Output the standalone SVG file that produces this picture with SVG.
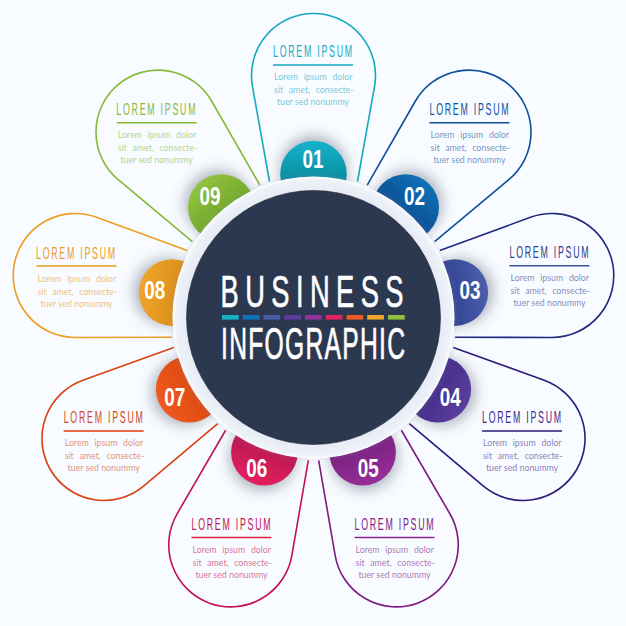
<svg xmlns="http://www.w3.org/2000/svg" width="626" height="626" viewBox="0 0 626 626">
<style>
.petal{fill:none;stroke-width:1.6}
.title{font-family:"Liberation Sans",sans-serif;font-size:16px;letter-spacing:3.2px}
.body{font-family:Lato,"Open Sans",sans-serif;font-size:8.8px;fill-opacity:.62}
.w{word-spacing:3.4px}
.num{font-family:"Liberation Sans",sans-serif;font-weight:700;font-size:25px;fill:#fff;text-anchor:middle}
.big{font-family:"Liberation Sans",sans-serif;fill:#fff;stroke:#fff;stroke-width:.7px;font-size:44px}
.sh{fill:#5a6478;fill-opacity:.5;filter:url(#blur)}
.rule{stroke-width:1.6}
</style>
<defs>
<filter id="blur" x="-50%" y="-50%" width="200%" height="200%"><feGaussianBlur stdDeviation="7"/></filter>
<filter id="ringsh" x="-10%" y="-10%" width="120%" height="120%"><feDropShadow dx="0" dy="0" stdDeviation="3" flood-color="#8792a8" flood-opacity=".3"/></filter>
<radialGradient id="ringg" cx=".5" cy=".5" r=".5"><stop offset=".9" stop-color="#e7ecf5"/><stop offset=".975" stop-color="#edf1f8"/><stop offset="1" stop-color="#ffffff"/></radialGradient>
<linearGradient id="g1" x1=".5" y1="0" x2=".5" y2="1" gradientTransform="rotate(0 .5 .5)"><stop offset="0" stop-color="#14b3cc"/><stop offset=".6" stop-color="#0a8c9e"/></linearGradient>
<linearGradient id="g2" x1=".5" y1="0" x2=".5" y2="1" gradientTransform="rotate(40 .5 .5)"><stop offset="0" stop-color="#0f72b8"/><stop offset=".7" stop-color="#0b4a8e"/></linearGradient>
<linearGradient id="g3" x1=".5" y1="0" x2=".5" y2="1" gradientTransform="rotate(80 .5 .5)"><stop offset="0" stop-color="#4a5fab"/><stop offset=".7" stop-color="#2f3f8f"/></linearGradient>
<linearGradient id="g4" x1=".5" y1="0" x2=".5" y2="1" gradientTransform="rotate(120 .5 .5)"><stop offset="0" stop-color="#5b3fa0"/><stop offset=".7" stop-color="#432a85"/></linearGradient>
<linearGradient id="g5" x1=".5" y1="0" x2=".5" y2="1" gradientTransform="rotate(160 .5 .5)"><stop offset="0" stop-color="#962f98"/><stop offset=".7" stop-color="#761f7e"/></linearGradient>
<linearGradient id="g6" x1=".5" y1="0" x2=".5" y2="1" gradientTransform="rotate(200 .5 .5)"><stop offset="0" stop-color="#e4205f"/><stop offset=".7" stop-color="#b5164e"/></linearGradient>
<linearGradient id="g7" x1=".5" y1="0" x2=".5" y2="1" gradientTransform="rotate(240 .5 .5)"><stop offset="0" stop-color="#f0591f"/><stop offset=".7" stop-color="#d9480f"/></linearGradient>
<linearGradient id="g8" x1=".5" y1="0" x2=".5" y2="1" gradientTransform="rotate(280 .5 .5)"><stop offset="0" stop-color="#f0a52a"/><stop offset=".7" stop-color="#d98b18"/></linearGradient>
<linearGradient id="g9" x1=".5" y1="0" x2=".5" y2="1" gradientTransform="rotate(320 .5 .5)"><stop offset="0" stop-color="#92c23e"/><stop offset=".7" stop-color="#6fa52b"/></linearGradient>
</defs>
<rect width="626" height="626" fill="#f8fbff"/>

<g id="node-01">
<path class="petal" stroke="#16a9c0" transform="translate(313.5 317.5) rotate(0)" d="M-44-136L-61.04-231.09A62 62 0 1 1 61.04-231.09L44-136"/>
<circle class="sh" cx="313.5" cy="169" r="33"/><circle cx="313.5" cy="174" r="33.3" fill="url(#g1)"/>
<text class="num" x="313" y="168.3" textLength="21" lengthAdjust="spacingAndGlyphs">01</text>
<text class="title" fill="#16a9c0" transform="translate(273 57.3) scale(.55 1)">LOREM IPSUM</text>
<line class="rule" stroke="#16a9c0" x1="273" x2="353" y1="65" y2="65"/>
<text class="body w" fill="#16a9c0" x="274" y="80.3">Lorem ipsum dolor</text>
<text class="body w" fill="#16a9c0" x="274" y="93">sit amet, consecte-</text>
<text class="body" fill="#16a9c0" x="313" y="105.3" text-anchor="middle">tuer sed nonummy</text>
</g>

<g id="node-02">
<path class="petal" stroke="#0d4f9c" transform="translate(313.5 317.5) rotate(40)" d="M-44-136L-61.04-231.09A62 62 0 1 1 61.04-231.09L44-136"/>
<circle class="sh" cx="408.9" cy="203.8" r="33"/><circle cx="405.7" cy="207.6" r="33.3" fill="url(#g2)"/>
<text class="num" x="414.5" y="205" textLength="21" lengthAdjust="spacingAndGlyphs">02</text>
<text class="title" fill="#0d4f9c" transform="translate(429.5 115) scale(.55 1)">LOREM IPSUM</text>
<line class="rule" stroke="#0d4f9c" x1="429.5" x2="509.5" y1="122.7" y2="122.7"/>
<text class="body w" fill="#0d4f9c" x="430.5" y="138">Lorem ipsum dolor</text>
<text class="body w" fill="#0d4f9c" x="430.5" y="150.7">sit amet, consecte-</text>
<text class="body" fill="#0d4f9c" x="469.5" y="163" text-anchor="middle">tuer sed nonummy</text>
</g>

<g id="node-03">
<path class="petal" stroke="#1f2a80" transform="translate(313.5 317.5) rotate(80)" d="M-44-136L-61.04-231.09A62 62 0 1 1 61.04-231.09L44-136"/>
<circle class="sh" cx="459.7" cy="291.7" r="33"/><circle cx="454.8" cy="292.6" r="33.3" fill="url(#g3)"/>
<text class="num" x="470" y="299.3" textLength="21" lengthAdjust="spacingAndGlyphs">03</text>
<text class="title" fill="#2e3c8c" transform="translate(509.5 258.3) scale(.55 1)">LOREM IPSUM</text>
<line class="rule" stroke="#3d4f9f" x1="509.5" x2="589.5" y1="265.8" y2="265.8"/>
<text class="body w" fill="#2e3c8c" x="510.5" y="281.3">Lorem ipsum dolor</text>
<text class="body w" fill="#2e3c8c" x="510.5" y="294">sit amet, consecte-</text>
<text class="body" fill="#2e3c8c" x="549.5" y="306.3" text-anchor="middle">tuer sed nonummy</text>
</g>

<g id="node-04">
<path class="petal" stroke="#2e1a7a" transform="translate(313.5 317.5) rotate(120)" d="M-44-136L-61.04-231.09A62 62 0 1 1 61.04-231.09L44-136"/>
<circle class="sh" cx="442.1" cy="391.75" r="33"/><circle cx="437.8" cy="389.25" r="33.3" fill="url(#g4)"/>
<text class="num" x="450.3" y="406" textLength="21" lengthAdjust="spacingAndGlyphs">04</text>
<text class="title" fill="#3f2a85" transform="translate(482 423.3) scale(.55 1)">LOREM IPSUM</text>
<line class="rule" stroke="#2e1a7a" x1="482" x2="562" y1="431" y2="431"/>
<text class="body w" fill="#3f2a85" x="483" y="446.3">Lorem ipsum dolor</text>
<text class="body w" fill="#3f2a85" x="483" y="459">sit amet, consecte-</text>
<text class="body" fill="#3f2a85" x="522" y="471.3" text-anchor="middle">tuer sed nonummy</text>
</g>

<g id="node-05">
<path class="petal" stroke="#7c1a80" transform="translate(313.5 317.5) rotate(160)" d="M-44-136L-61.04-231.09A62 62 0 1 1 61.04-231.09L44-136"/>
<circle class="sh" cx="364.3" cy="457" r="33"/><circle cx="362.6" cy="452.3" r="33.3" fill="url(#g5)"/>
<text class="num" x="368.3" y="476.7" textLength="21" lengthAdjust="spacingAndGlyphs">05</text>
<text class="title" fill="#7c1a80" transform="translate(354.5 530) scale(.55 1)">LOREM IPSUM</text>
<line class="rule" stroke="#8a2590" x1="354.5" x2="434.5" y1="537.5" y2="537.5"/>
<text class="body w" fill="#7c1a80" x="355.5" y="553">Lorem ipsum dolor</text>
<text class="body w" fill="#7c1a80" x="355.5" y="565.7">sit amet, consecte-</text>
<text class="body" fill="#7c1a80" x="394.5" y="578" text-anchor="middle">tuer sed nonummy</text>
</g>

<g id="node-06">
<path class="petal" stroke="#c2124f" transform="translate(313.5 317.5) rotate(200)" d="M-44-136L-61.04-231.09A62 62 0 1 1 61.04-231.09L44-136"/>
<circle class="sh" cx="262.7" cy="457" r="33"/><circle cx="264.4" cy="452.3" r="33.3" fill="url(#g6)"/>
<text class="num" x="256.8" y="476.7" textLength="21" lengthAdjust="spacingAndGlyphs">06</text>
<text class="title" fill="#c2124f" transform="translate(191.5 530) scale(.55 1)">LOREM IPSUM</text>
<line class="rule" stroke="#dd2040" x1="191.5" x2="271.5" y1="537.5" y2="537.5"/>
<text class="body w" fill="#c2124f" x="192.5" y="553">Lorem ipsum dolor</text>
<text class="body w" fill="#c2124f" x="192.5" y="565.7">sit amet, consecte-</text>
<text class="body" fill="#c2124f" x="231.5" y="578" text-anchor="middle">tuer sed nonummy</text>
</g>

<g id="node-07">
<path class="petal" stroke="#d9420f" transform="translate(313.5 317.5) rotate(240)" d="M-44-136L-61.04-231.09A62 62 0 1 1 61.04-231.09L44-136"/>
<circle class="sh" cx="184.9" cy="391.75" r="33"/><circle cx="189.2" cy="389.25" r="33.3" fill="url(#g7)"/>
<text class="num" x="174.8" y="405.7" textLength="21" lengthAdjust="spacingAndGlyphs">07</text>
<text class="title" fill="#cf4a20" transform="translate(63.7 423.3) scale(.55 1)">LOREM IPSUM</text>
<line class="rule" stroke="#e63a12" x1="63.7" x2="143.7" y1="431" y2="431"/>
<text class="body w" fill="#cf4a20" x="64.7" y="446.3">Lorem ipsum dolor</text>
<text class="body w" fill="#cf4a20" x="64.7" y="459">sit amet, consecte-</text>
<text class="body" fill="#cf4a20" x="103.7" y="471.3" text-anchor="middle">tuer sed nonummy</text>
</g>

<g id="node-08">
<path class="petal" stroke="#ee9d25" transform="translate(313.5 317.5) rotate(280)" d="M-44-136L-61.04-231.09A62 62 0 1 1 61.04-231.09L44-136"/>
<circle class="sh" cx="167.3" cy="291.7" r="33"/><circle cx="172.2" cy="292.6" r="33.3" fill="url(#g8)"/>
<text class="num" x="154.7" y="299" textLength="21" lengthAdjust="spacingAndGlyphs">08</text>
<text class="title" fill="#e89a22" transform="translate(36 259) scale(.55 1)">LOREM IPSUM</text>
<line class="rule" stroke="#e89a22" x1="36.5" x2="116.5" y1="266" y2="266"/>
<text class="body w" fill="#e89a22" x="37.5" y="282">Lorem ipsum dolor</text>
<text class="body w" fill="#e89a22" x="37.5" y="294.7">sit amet, consecte-</text>
<text class="body" fill="#e89a22" x="76.5" y="307" text-anchor="middle">tuer sed nonummy</text>
</g>

<g id="node-09">
<path class="petal" stroke="#85ba37" transform="translate(313.5 317.5) rotate(320)" d="M-44-136L-61.04-231.09A62 62 0 1 1 61.04-231.09L44-136"/>
<circle class="sh" cx="218.1" cy="203.8" r="33"/><circle cx="221.3" cy="207.6" r="33.3" fill="url(#g9)"/>
<text class="num" x="210" y="205" textLength="21" lengthAdjust="spacingAndGlyphs">09</text>
<text class="title" fill="#85ba37" transform="translate(116.3 115) scale(.55 1)">LOREM IPSUM</text>
<line class="rule" stroke="#85ba37" x1="116.7" x2="196.7" y1="122.7" y2="122.7"/>
<text class="body w" fill="#85ba37" x="117.7" y="138">Lorem ipsum dolor</text>
<text class="body w" fill="#85ba37" x="117.7" y="150.7">sit amet, consecte-</text>
<text class="body" fill="#85ba37" x="156.7" y="163" text-anchor="middle">tuer sed nonummy</text>
</g>

<g id="hub">
<circle cx="313.5" cy="317.5" r="141" fill="url(#ringg)" filter="url(#ringsh)"/>
<circle cx="313.5" cy="317.5" r="127" fill="#2c3850" stroke="#1c2434" stroke-width=".6"/>
<text class="big" transform="translate(220.5 307.3) scale(.62 1)" style="letter-spacing:10.4px">BUSINESS</text>
<text class="big" transform="translate(221 359.3) scale(.56 1)" style="letter-spacing:2.3px">INFOGRAPHIC</text>
<g id="bars">
<rect x="222" y="315" width="16.7" height="4.6" fill="#19b1c8"/>
<rect x="242.8" y="315" width="16.7" height="4.6" fill="#1272b8"/>
<rect x="263.5" y="315" width="16.7" height="4.6" fill="#4a5ca8"/>
<rect x="284.3" y="315" width="16.7" height="4.6" fill="#5b3d9a"/>
<rect x="305" y="315" width="16.7" height="4.6" fill="#93309a"/>
<rect x="325.7" y="315" width="16.7" height="4.6" fill="#e0235f"/>
<rect x="346.5" y="315" width="16.7" height="4.6" fill="#ee5a24"/>
<rect x="367.2" y="315" width="16.7" height="4.6" fill="#f0a429"/>
<rect x="388" y="315" width="16.7" height="4.6" fill="#8fc03f"/>
</g>
</g>
</svg>
